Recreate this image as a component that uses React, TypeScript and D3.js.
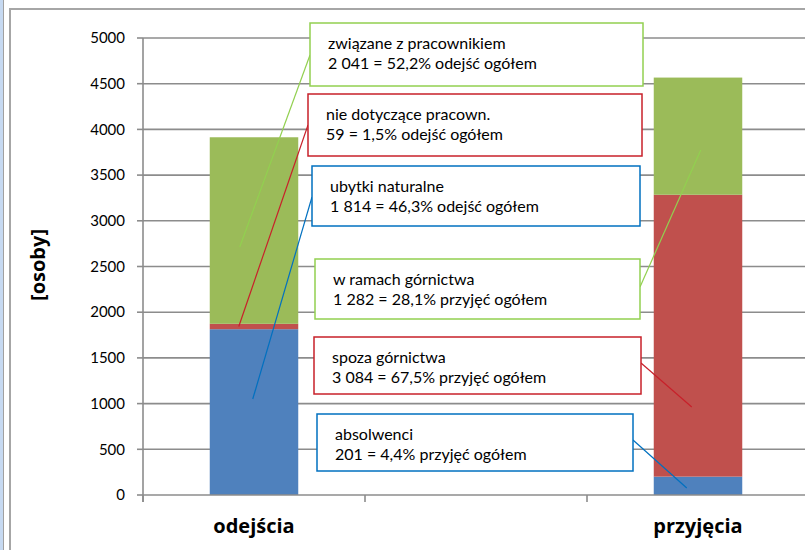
import React, { useEffect, useRef } from 'react';
import * as d3 from 'd3';

// categories (the middle one is an empty slot in the original workbook)
const categories = ['odejścia', '', 'przyjęcia'];
// stacked series, bottom to top
const blueValues = [1814, 0, 201];   // ubytki naturalne / absolwenci
const redValues = [59, 0, 3084];     // nie dotyczące pracown. / spoza górnictwa
const greenValues = [2041, 0, 1282]; // związane z pracownikiem / w ramach górnictwa
const yTicks = [0, 500, 1000, 1500, 2000, 2500, 3000, 3500, 4000, 4500, 5000];

const calloutTitles = [
  'związane z pracownikiem',
  'nie dotyczące pracown.',
  'ubytki naturalne',
  'w ramach górnictwa',
  'spoza górnictwa',
  'absolwenci',
];
const calloutTexts = [
  '2 041 = 52,2% odejść ogółem',
  '59 = 1,5% odejść ogółem',
  '1 814 = 46,3% odejść ogółem',
  '1 282 = 28,1% przyjęć ogółem',
  '3 084 = 67,5% przyjęć ogółem',
  '201 = 4,4% przyjęć ogółem',
];
// which category / series each callout points to
const calloutCategory = [0, 0, 0, 2, 2, 2];
const calloutSeries = [2, 1, 0, 2, 1, 0];

const COLORS = ['#4F81BD', '#C0504D', '#9BBB59'];
const LINE_COLORS = ['#0070C0', '#C8202A', '#92D050'];
const FONT = 'Lato, "Open Sans", sans-serif';
const BOLD_FONT = '"Open Sans", Lato, sans-serif';

// callout box layout: x, y, w, h, side the leader leaves from, anchor value, anchor dx in bar
const boxLayout = [
  { x: 310, y: 23, w: 333, h: 63, side: 'left', ly: 55, v: 2713, dx: 30 },
  { x: 308, y: 94, w: 334, h: 62, side: 'left', ly: 125, v: 1843, dx: 29 },
  { x: 312, y: 166, w: 328, h: 60, side: 'left', ly: 197, v: 1050, dx: 43 },
  { x: 315, y: 259, w: 325, h: 60, side: 'right', ly: 287, v: 3775, dx: 47 },
  { x: 314, y: 337, w: 327, h: 57, side: 'right', ly: 363, v: 963, dx: 38 },
  { x: 317, y: 414, w: 316, h: 57, side: 'right', ly: 440, v: 77, dx: 33 },
];

const App = () => {
  const ref = useRef<SVGSVGElement | null>(null);

  useEffect(() => {
    if (!ref.current) return;
    const svg = d3.select(ref.current);
    svg.selectAll('*').remove();

    const width = 805;
    const height = 550;
    const left = 143;
    const right = 809;
    const top = 38;
    const bottom = 495;

    // outer frame
    svg.append('rect').attr('x', 0).attr('y', 0).attr('width', 3).attr('height', height).attr('fill', '#c6d9f1');
    svg.append('line').attr('x1', 3.5).attr('x2', 3.5).attr('y1', 0).attr('y2', height).attr('stroke', '#a0a0a0');
    svg.append('rect')
      .attr('x', 10).attr('y', 9).attr('width', width).attr('height', height)
      .attr('fill', 'white').attr('stroke', '#a6a6a6').attr('stroke-width', 2);

    const x = d3.scaleBand().domain(categories.map((c, i) => String(i))).range([left, right]);
    const y = d3.scaleLinear().domain([0, 5000]).range([bottom, top]);
    const barW = 88.5;
    const barX = (i: number) => (x(String(i)) as number) + (x.bandwidth() - barW) / 2;

    // grid lines
    svg.append('g').selectAll('line').data(yTicks.filter(t => t > 0)).enter().append('line')
      .attr('x1', left).attr('x2', width)
      .attr('y1', d => y(d)).attr('y2', d => y(d))
      .attr('stroke', '#8c8c8c').attr('stroke-width', 1.6);

    // stacked bars
    const table = categories.map((c, i) => ({ i, s0: blueValues[i], s1: redValues[i], s2: greenValues[i] }));
    const stacked = d3.stack<any>().keys(['s0', 's1', 's2'])(table);
    stacked.forEach((layer, k) => {
      svg.append('g').selectAll('rect').data(layer.filter(d => d[1] > d[0])).enter().append('rect')
        .attr('x', d => barX(d.data.i))
        .attr('width', barW)
        .attr('y', d => y(d[1]))
        .attr('height', d => y(d[0]) - y(d[1]))
        .attr('fill', COLORS[k]);
    });

    // y axis
    const yAxis = svg.append('g');
    yAxis.append('line').attr('x1', left).attr('x2', left).attr('y1', top).attr('y2', bottom + 7)
      .attr('stroke', '#8c8c8c').attr('stroke-width', 1.6);
    yAxis.selectAll('.tick').data(yTicks).enter().append('line')
      .attr('x1', left - 6).attr('x2', left)
      .attr('y1', d => y(d)).attr('y2', d => y(d))
      .attr('stroke', '#8c8c8c').attr('stroke-width', 1.6);
    yAxis.selectAll('text').data(yTicks).enter().append('text')
      .attr('x', 125).attr('y', d => y(d)).attr('dy', '0.35em')
      .attr('text-anchor', 'end')
      .style('font-family', FONT).style('font-size', '15px').attr('fill', '#000')
      .text(d => String(d));

    // x axis
    svg.append('line').attr('x1', left).attr('x2', width).attr('y1', bottom).attr('y2', bottom)
      .attr('stroke', '#8c8c8c').attr('stroke-width', 1.6);
    svg.append('g').selectAll('line').data(categories.map((c, i) => i)).enter().append('line')
      .attr('x1', i => x(String(i)) as number).attr('x2', i => x(String(i)) as number)
      .attr('y1', bottom).attr('y2', bottom + 7)
      .attr('stroke', '#8c8c8c').attr('stroke-width', 1.6);
    svg.append('g').selectAll('text').data(categories.map((c, i) => i)).enter().append('text')
      .attr('x', i => (x(String(i)) as number) + x.bandwidth() / 2)
      .attr('y', 533)
      .attr('text-anchor', 'middle')
      .style('font-family', BOLD_FONT).style('font-size', '20px').style('font-weight', '700')
      .text(i => categories[i]);

    // axis title
    svg.append('text')
      .attr('transform', 'translate(45,265) rotate(-90)')
      .attr('text-anchor', 'middle')
      .style('font-family', BOLD_FONT).style('font-size', '20px').style('font-weight', '700')
      .text('[osoby]');

    // callouts: leader lines then boxes
    boxLayout.forEach((b, j) => {
      const ci = calloutCategory[j];
      const si = calloutSeries[j];
      const ax = barX(ci) + b.dx;
      const ay = y(b.v);
      const lx = b.side === 'left' ? b.x : b.x + b.w;
      svg.append('line')
        .attr('x1', ax).attr('y1', ay).attr('x2', lx).attr('y2', b.ly)
        .attr('stroke', LINE_COLORS[si]).attr('stroke-width', 1.2);
    });
    boxLayout.forEach((b, j) => {
      const si = calloutSeries[j];
      const g = svg.append('g');
      g.append('rect')
        .attr('x', b.x).attr('y', b.y).attr('width', b.w).attr('height', b.h)
        .attr('fill', 'white').attr('stroke', LINE_COLORS[si]).attr('stroke-width', 1.5);
      g.append('text').attr('x', b.x + 18).attr('y', b.y + 26)
        .style('font-family', FONT).style('font-size', '16px').text(calloutTitles[j]);
      g.append('text').attr('x', b.x + 18).attr('y', b.y + 46)
        .style('font-family', FONT).style('font-size', '16px').text(calloutTexts[j]);
    });
  }, []);

  return (
    <svg
      ref={ref}
      width={805}
      height={550}
      style={{ position: 'absolute', left: 0, top: 0, background: 'white' }}
    />
  );
};

export default App;
